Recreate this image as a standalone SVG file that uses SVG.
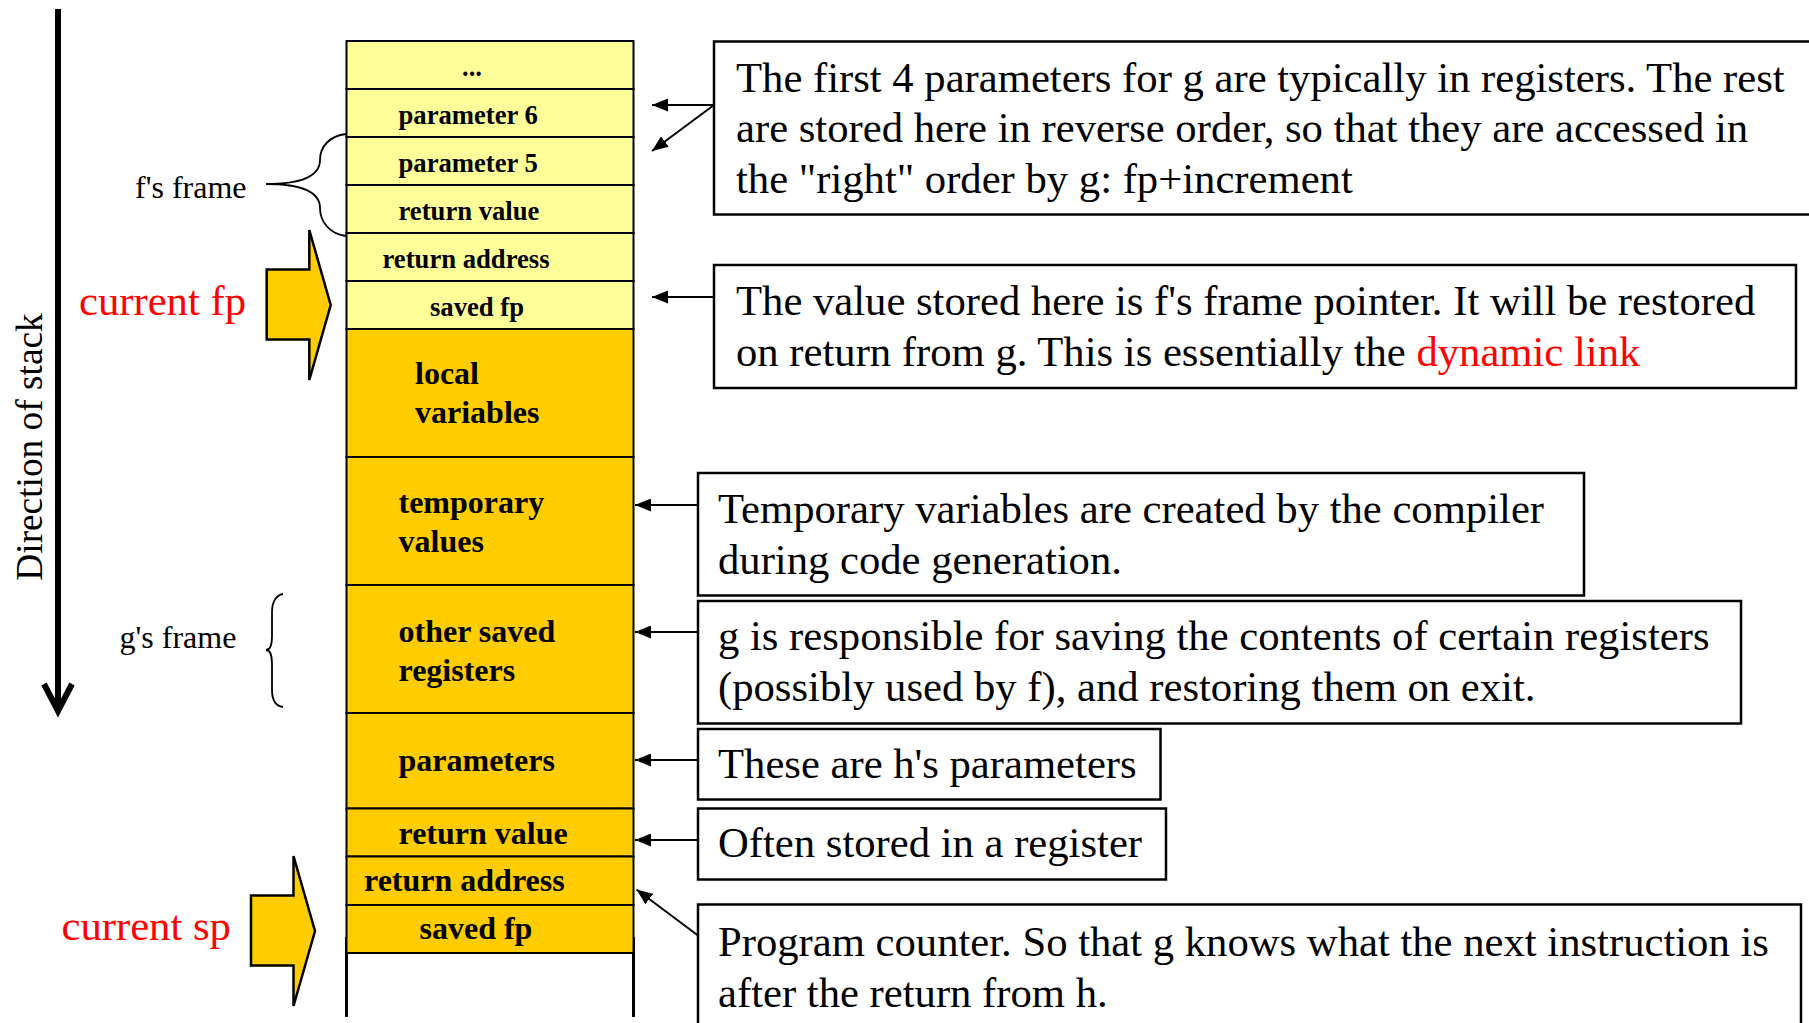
<svg xmlns="http://www.w3.org/2000/svg" width="1809" height="1023" viewBox="0 0 1809 1023">
  <style>
    .cell-f { fill: #FFFF99; stroke: #000; stroke-width: 2; }
    .cell-g { fill: #FFCC00; stroke: #000; stroke-width: 2; }
    .lbl-s { font-family: "Liberation Serif", "Times New Roman", serif; font-weight: bold; font-size: 26.67px; fill: #000; }
    .lbl-l { font-family: "Liberation Serif", "Times New Roman", serif; font-weight: bold; font-size: 32px; fill: #000; }
    .note { fill: #fff; stroke: #000; stroke-width: 2.5; }
    .note-txt { font-family: "Liberation Serif", "Times New Roman", serif; font-size: 42.67px; fill: #000; }
    .side { font-family: "Liberation Serif", "Times New Roman", serif; font-size: 32px; fill: #000; }
    .ptr { font-family: "Liberation Serif", "Times New Roman", serif; font-size: 42.67px; fill: #FF0000; }
    .red { fill: #FF0000; }
    .brace { fill: none; stroke: #000; stroke-width: 1.8; }
    .blk-arrow { fill: #FFCC00; stroke: #000; stroke-width: 2.5; stroke-linejoin: miter; }
    .conn { fill: none; stroke: #000; stroke-width: 2; marker-end: url(#head); }
  </style>
  <defs>
    <marker id="head" markerUnits="userSpaceOnUse" markerWidth="17" markerHeight="13" refX="16" refY="6.5" orient="auto">
      <path d="M0,0 L16,6.5 L0,13 z" fill="#000"/>
    </marker>
  </defs>

  <rect width="1809" height="1023" fill="#fff"/>

  <!-- direction of stack growth -->
  <g id="direction">
    <line x1="58" y1="9" x2="58" y2="709" stroke="#000" stroke-width="6"/>
    <polyline points="44,684 58,711 72,684" fill="none" stroke="#000" stroke-width="6" stroke-linejoin="miter"/>
    <text class="side" font-size="37.33px" style="font-size:37.33px" transform="translate(41.7,447) rotate(-90)" text-anchor="middle">Direction of stack</text>
  </g>

  <!-- stack cells: caller frame f -->
  <g id="stack">
    <line x1="346.5" y1="937" x2="346.5" y2="1017" stroke="#000" stroke-width="3"/>
    <line x1="633.5" y1="937" x2="633.5" y2="1017" stroke="#000" stroke-width="3"/>
    <g id="cell-ellipsis">
      <rect class="cell-f" x="346.5" y="41" width="287" height="48"/>
      <text class="lbl-s" x="462" y="76">...</text>
    </g>
    <g id="cell-param6">
      <rect class="cell-f" x="346.5" y="89" width="287" height="48"/>
      <text class="lbl-s" x="398.5" y="124">parameter 6</text>
    </g>
    <g id="cell-param5">
      <rect class="cell-f" x="346.5" y="137" width="287" height="48"/>
      <text class="lbl-s" x="398.5" y="172">parameter 5</text>
    </g>
    <g id="cell-f-retval">
      <rect class="cell-f" x="346.5" y="185" width="287" height="48"/>
      <text class="lbl-s" x="398.5" y="220">return value</text>
    </g>
    <g id="cell-f-retaddr">
      <rect class="cell-f" x="346.5" y="233" width="287" height="48"/>
      <text class="lbl-s" x="382.5" y="268">return address</text>
    </g>
    <g id="cell-f-savedfp">
      <rect class="cell-f" x="346.5" y="281" width="287" height="48"/>
      <text class="lbl-s" x="430" y="316">saved fp</text>
    </g>

    <!-- callee frame g -->
    <g id="cell-locals">
      <rect class="cell-g" x="346.5" y="329" width="287" height="128"/>
      <text class="lbl-l" x="415" y="384">local</text>
      <text class="lbl-l" x="415" y="423">variables</text>
    </g>
    <g id="cell-temps">
      <rect class="cell-g" x="346.5" y="457" width="287" height="128"/>
      <text class="lbl-l" x="398.5" y="513">temporary</text>
      <text class="lbl-l" x="398.5" y="552">values</text>
    </g>
    <g id="cell-saved-regs">
      <rect class="cell-g" x="346.5" y="585" width="287" height="128"/>
      <text class="lbl-l" x="398.5" y="642">other saved</text>
      <text class="lbl-l" x="398.5" y="681">registers</text>
    </g>
    <g id="cell-params">
      <rect class="cell-g" x="346.5" y="713" width="287" height="95.5"/>
      <text class="lbl-l" x="398.5" y="771">parameters</text>
    </g>
    <g id="cell-g-retval">
      <rect class="cell-g" x="346.5" y="808.5" width="287" height="48"/>
      <text class="lbl-l" x="398.5" y="844">return value</text>
    </g>
    <g id="cell-g-retaddr">
      <rect class="cell-g" x="346.5" y="856.5" width="287" height="48.5"/>
      <text class="lbl-l" x="364" y="891">return address</text>
    </g>
    <g id="cell-g-savedfp">
      <rect class="cell-g" x="346.5" y="905" width="287" height="48"/>
      <text class="lbl-l" x="419.5" y="939">saved fp</text>
    </g>
  </g>

  <!-- frame braces -->
  <g id="f-frame">
    <path class="brace" d="M346,134 C330,136 320,146 320,160 C320,176 302,184 266,184 C302,184 320,192 320,208 C320,222 330,234 346,236"/>
    <text class="side" x="135" y="198">f's frame</text>
  </g>
  <g id="g-frame">
    <path class="brace" d="M283,594 C276,595 272,602 272,612 L272,636 C272,645 270,650 266,650 C270,650 272,655 272,664 L272,690 C272,700 276,706 283,707"/>
    <text class="side" x="119.5" y="648">g's frame</text>
  </g>

  <!-- frame / stack pointers -->
  <g id="current-fp">
    <polygon class="blk-arrow" points="266.7,269.5 309.3,269.5 309.3,230 330.7,305 309.3,380 309.3,339.5 266.7,339.5"/>
    <text class="ptr" x="79" y="315">current fp</text>
  </g>
  <g id="current-sp">
    <polygon class="blk-arrow" points="251,895.5 293.5,895.5 293.5,856 315,931 293.5,1006 293.5,965.5 251,965.5"/>
    <text class="ptr" x="61.5" y="940">current sp</text>
  </g>

  <!-- explanatory notes -->
  <g id="note-params">
    <rect class="note" x="714" y="41.5" width="1200" height="173"/>
    <text class="note-txt" x="736" y="91.5">The first 4 parameters for g are typically in registers. The rest</text>
    <text class="note-txt" x="736" y="142">are stored here in reverse order, so that they are accessed in</text>
    <text class="note-txt" x="736" y="192.5">the "right" order by g: fp+increment</text>
  </g>
  <g id="note-savedfp">
    <rect class="note" x="714" y="265" width="1082" height="123"/>
    <text class="note-txt" x="736" y="315">The value stored here is f's frame pointer. It will be restored</text>
    <text class="note-txt" x="736" y="366">on return from g. This is essentially the <tspan class="red">dynamic link</tspan></text>
  </g>
  <g id="note-temps">
    <rect class="note" x="698" y="473" width="886" height="122.5"/>
    <text class="note-txt" x="718" y="523">Temporary variables are created by the compiler</text>
    <text class="note-txt" x="718" y="574">during code generation.</text>
  </g>
  <g id="note-regs">
    <rect class="note" x="698" y="601" width="1043" height="122.5"/>
    <text class="note-txt" x="718" y="650">g is responsible for saving the contents of certain registers</text>
    <text class="note-txt" x="718" y="701">(possibly used by f), and restoring them on exit.</text>
  </g>
  <g id="note-hparams">
    <rect class="note" x="698" y="729" width="462.5" height="70.5"/>
    <text class="note-txt" x="718" y="778">These are h's parameters</text>
  </g>
  <g id="note-retval">
    <rect class="note" x="698" y="808.5" width="468" height="71"/>
    <text class="note-txt" x="718" y="857">Often stored in a register</text>
  </g>
  <g id="note-pc">
    <rect class="note" x="698" y="904.5" width="1103" height="200"/>
    <text class="note-txt" x="718" y="955.5">Program counter. So that g knows what the next instruction is</text>
    <text class="note-txt" x="718" y="1006.5">after the return from h.</text>
  </g>

  <!-- connectors from notes to stack cells -->
  <g id="connectors">
    <line class="conn" x1="714" y1="105" x2="652" y2="105"/>
    <line class="conn" x1="714" y1="105" x2="652" y2="151"/>
    <line class="conn" x1="714" y1="297" x2="652" y2="297"/>
    <line class="conn" x1="698" y1="505" x2="635" y2="505"/>
    <line class="conn" x1="698" y1="632" x2="635" y2="632"/>
    <line class="conn" x1="698" y1="760" x2="635" y2="760"/>
    <line class="conn" x1="698" y1="840" x2="635" y2="840"/>
    <line class="conn" x1="698" y1="935.5" x2="636.5" y2="889.5"/>
  </g>
</svg>
